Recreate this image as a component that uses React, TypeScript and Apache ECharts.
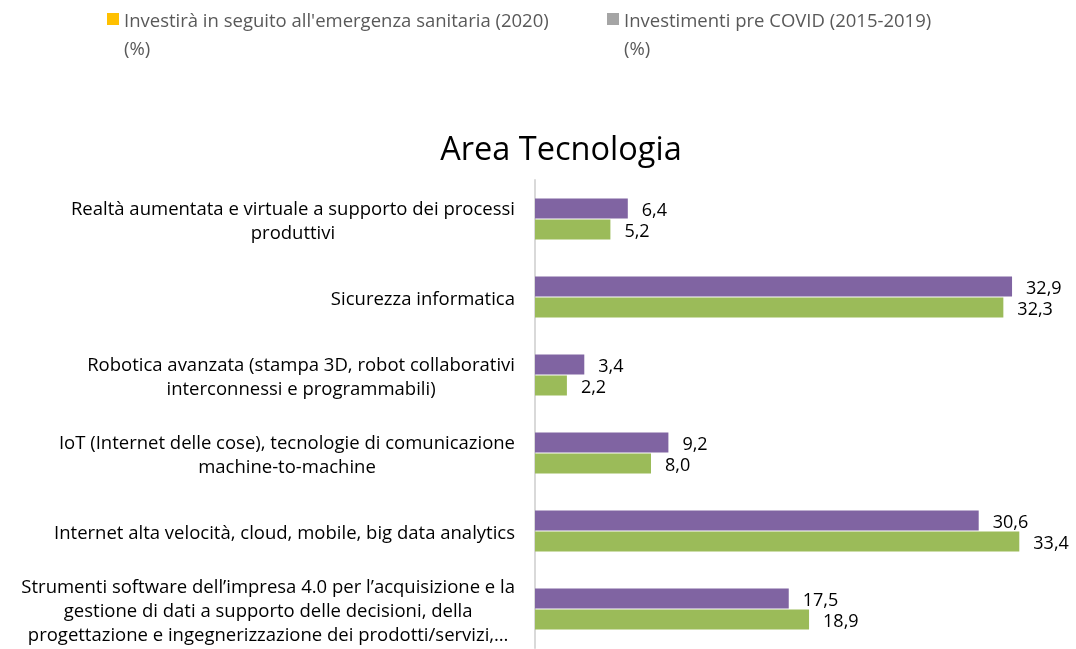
import React, { useEffect, useRef } from "react";
import * as echarts from "echarts";

const categories: string[] = [
  "Realtà aumentata e virtuale a supporto dei processi\nproduttivi",
  "Sicurezza informatica",
  "Robotica avanzata (stampa 3D, robot collaborativi\ninterconnessi e programmabili)",
  "IoT (Internet delle cose), tecnologie di comunicazione\nmachine-to-machine",
  "Internet alta velocità, cloud, mobile, big data analytics",
  "Strumenti software dell’impresa 4.0 per l’acquisizione e la\ngestione di dati a supporto delle decisioni, della\nprogettazione e ingegnerizzazione dei prodotti/servizi,…",
];

const seriesNames: string[] = [
  "Investirà in seguito all'emergenza sanitaria (2020)\n(%)",
  "Investimenti pre COVID (2015-2019)\n(%)",
];

const values2020: number[] = [6.4, 32.9, 3.4, 9.2, 30.6, 17.5];
const valuesPreCovid: number[] = [5.2, 32.3, 2.2, 8.0, 33.4, 18.9];

const barColors = ["#8064A2", "#9BBB59"];
const legendColors = ["#FFC000", "#A5A5A5"];

const FONT = "'Open Sans', sans-serif";

export default function App() {
  const ref = useRef<HTMLDivElement>(null);
  useEffect(() => {
    if (!ref.current) return;
    const chart = echarts.init(ref.current, undefined, { renderer: "svg" });
    const labelFmt = (p: any) => Number(p.value).toFixed(1).replace(".", ",");
    const legendItem = (i: number, x: number) => [
      {
        type: "rect",
        shape: { x, y: 13, width: 12, height: 12 },
        style: { fill: legendColors[i] },
      },
      {
        type: "text",
        x: x + 17,
        y: 5,
        style: {
          text: seriesNames[i],
          fontFamily: FONT,
          fontSize: 18.5,
          lineHeight: 28,
          fill: "#595959",
          verticalAlign: "top",
          align: "left",
        },
      },
    ];
    chart.setOption({
      animation: false,
      title: {
        text: "Area Tecnologia",
        left: 556,
        textAlign: "center",
        top: 122,
        textStyle: { fontFamily: FONT, fontSize: 32.5, lineHeight: 40, fontWeight: "normal", color: "#000" },
      },
      graphic: [...legendItem(0, 107), ...legendItem(1, 607)],
      grid: { left: 535, right: 19, top: 180, bottom: 1, containLabel: false },
      xAxis: { type: "value", min: 0, max: 36, show: false },
      yAxis: {
        type: "category",
        data: categories,
        inverse: true,
        axisLine: { show: true, lineStyle: { color: "#d9d9d9", width: 2 } },
        axisTick: { show: false },
        axisLabel: {
          margin: 20,
          formatter: (v: string) => v.split("\n").map((l) => "{c|" + l + "}").join("\n"),
          rich: {
            c: { align: "center", fontFamily: FONT, fontSize: 18.5, lineHeight: 24, color: "#000" },
          },
        },
      },
      series: [
        {
          name: seriesNames[0],
          type: "bar",
          data: values2020,
          barWidth: 20,
          barGap: "5%",
          itemStyle: { color: barColors[0] },
          label: { show: true, position: "right", distance: 14, formatter: labelFmt, fontFamily: FONT, fontSize: 18, color: "#000" },
        },
        {
          name: seriesNames[1],
          type: "bar",
          data: valuesPreCovid,
          barWidth: 20,
          barGap: "5%",
          itemStyle: { color: barColors[1] },
          label: { show: true, position: "right", distance: 14, formatter: labelFmt, fontFamily: FONT, fontSize: 18, color: "#000" },
        },
      ],
    });
    return () => chart.dispose();
  }, []);
  return <div ref={ref} style={{ position: "fixed", left: 0, top: 0, width: 1076, height: 649 }} />;
}
